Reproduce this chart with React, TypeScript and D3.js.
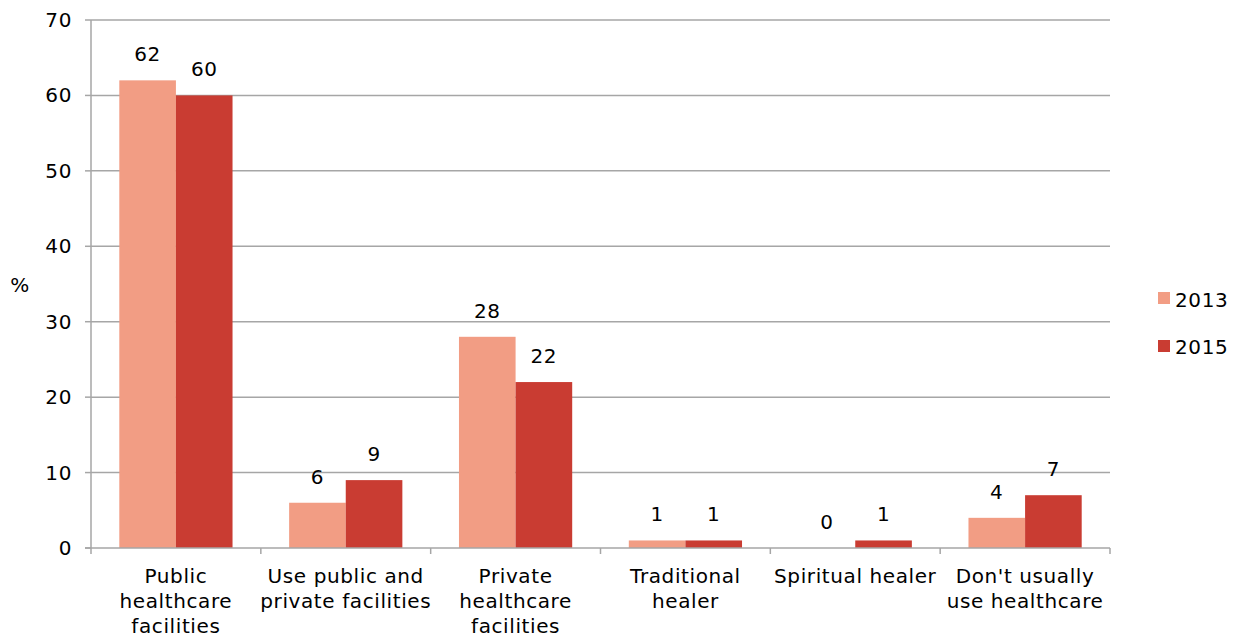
import React from "react";
import * as d3 from "d3";

const categories: string[][] = [
  ["Public", "healthcare", "facilities"],
  ["Use public and", "private facilities"],
  ["Private", "healthcare", "facilities"],
  ["Traditional", "healer"],
  ["Spiritual healer"],
  ["Don't usually", "use healthcare"],
];
const series = ["2013", "2015"];
const values2013 = [62, 6, 28, 1, 0, 4];
const values2015 = [60, 9, 22, 1, 1, 7];
const yTicks = [0, 10, 20, 30, 40, 50, 60, 70];
const colors = ["#F29D84", "#C93C32"];

export default function App() {
  const W = 1234, H = 637;
  const left = 91, right = 1110, top = 20, bottom = 548;
  const x0 = d3.scaleBand<number>().domain(d3.range(categories.length)).range([left, right]).paddingInner(0).paddingOuter(0);
  const x1 = d3.scaleBand<number>().domain([0, 1]).range([x0.bandwidth() / 6, (x0.bandwidth() * 5) / 6]);
  const y = d3.scaleLinear().domain([0, 70]).range([bottom, top]);
  const all = [values2013, values2015];
  const font = "Verdana, 'DejaVu Sans', sans-serif";
  const fs = 20;
  const ls = 0.6;
  return (
    <svg width={W} height={H} style={{ position: "absolute", left: 0, top: 0 }} fontFamily={font} letterSpacing={ls}>
      <rect width={W} height={H} fill="#fff" />
      {yTicks.map((t) => (
        <g key={t}>
          {t > 0 && <line x1={left} x2={right} y1={y(t)} y2={y(t)} stroke="#A6A6A6" strokeWidth={1.5} />}
          <line x1={left - 6} x2={left} y1={y(t)} y2={y(t)} stroke="#A6A6A6" strokeWidth={1.5} />
          <text x={72} y={y(t)} dy="0.35em" textAnchor="end" fontSize={fs} fill="#000">{t}</text>
        </g>
      ))}
      {all.map((vals, si) =>
        vals.map((v, ci) => {
          const bx = x0(ci)! + x1(si)!;
          const bw = x1.bandwidth();
          return (
            <g key={`${si}-${ci}`}>
              {v > 0 && <rect x={bx} y={y(v)} width={bw} height={bottom - y(v)} fill={colors[si]} />}
              <text x={bx + bw / 2} y={y(v) - 19} textAnchor="middle" fontSize={fs} fill="#000">{v}</text>
            </g>
          );
        })
      )}
      <line x1={left} x2={left} y1={top} y2={bottom} stroke="#A6A6A6" strokeWidth={1.5} />
      <line x1={left - 6} x2={right} y1={bottom} y2={bottom} stroke="#A6A6A6" strokeWidth={1.5} />
      {d3.range(categories.length + 1).map((i) => {
        const xx = left + i * x0.bandwidth();
        return <line key={i} x1={xx} x2={xx} y1={bottom} y2={bottom + 6} stroke="#A6A6A6" strokeWidth={1.5} />;
      })}
      {categories.map((lines, ci) => (
        <text key={ci} textAnchor="middle" fontSize={fs} fill="#000">
          {lines.map((l, li) => (
            <tspan key={li} x={x0(ci)! + x0.bandwidth() / 2} y={583 + li * 25}>{l}</tspan>
          ))}
        </text>
      ))}
      <text x={20} y={292} textAnchor="middle" fontSize={fs} fill="#000">%</text>
      {series.map((s, i) => (
        <g key={s}>
          <rect x={1158} y={292 + i * 48} width={12} height={12} fill={colors[i]} />
          <text x={1175} y={300 + i * 47} dy="0.35em" fontSize={fs} fill="#000">{s}</text>
        </g>
      ))}
    </svg>
  );
}
